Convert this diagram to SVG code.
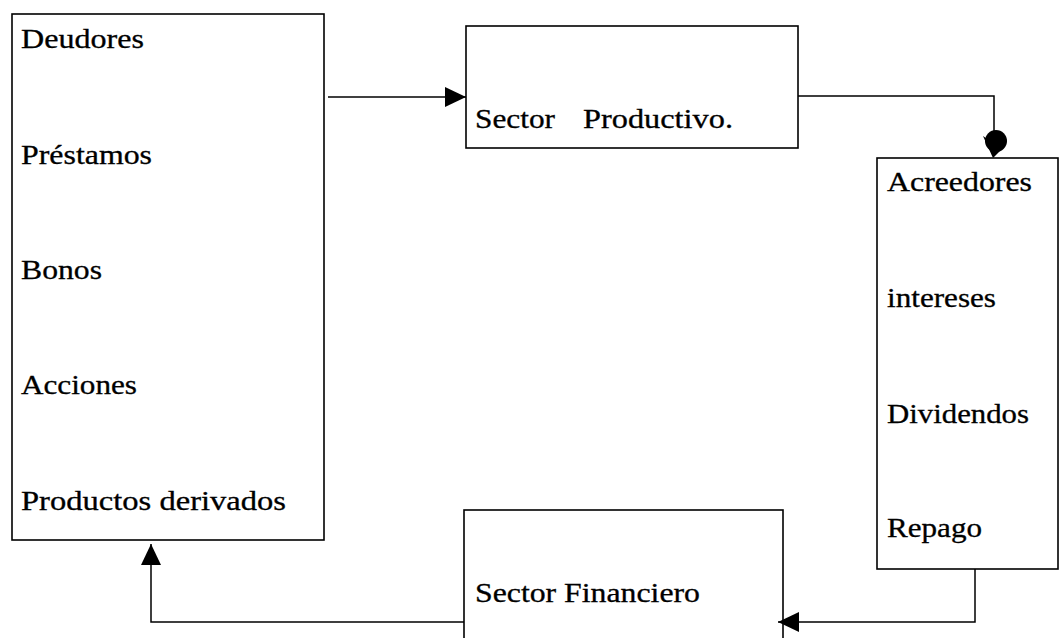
<svg xmlns="http://www.w3.org/2000/svg" width="1061" height="638" viewBox="0 0 1061 638">
<style>
.box{fill:#fff;stroke:#000;stroke-width:1.6}
.ln{fill:none;stroke:#000;stroke-width:1.5}
text{font-family:"Liberation Serif","Times New Roman",serif;font-size:26.5px;fill:#000;stroke:#000;stroke-width:0.3}
</style>
<defs>
<marker id="ah" markerUnits="userSpaceOnUse" markerWidth="22" markerHeight="22" viewBox="0 0 22 22" refX="21" refY="11" orient="auto">
<path d="M0,1 L21,11 L0,21 Z" fill="#000"/>
</marker>
</defs>
<rect width="1061" height="638" fill="#fff"/>
<g id="deudores">
<rect class="box" x="12" y="14" width="312" height="526"/>
<text x="21" y="48" textLength="123" lengthAdjust="spacingAndGlyphs">Deudores</text>
<text x="21" y="164" textLength="131" lengthAdjust="spacingAndGlyphs">Préstamos</text>
<text x="21" y="279" textLength="81" lengthAdjust="spacingAndGlyphs">Bonos</text>
<text x="21" y="394" textLength="116" lengthAdjust="spacingAndGlyphs">Acciones</text>
<text x="21" y="510" textLength="265" lengthAdjust="spacingAndGlyphs">Productos derivados</text>
</g>
<g id="sector-productivo">
<rect class="box" x="466" y="26" width="332" height="122"/>
<text y="128"><tspan x="475" textLength="80" lengthAdjust="spacingAndGlyphs">Sector</tspan><tspan x="583" textLength="150" lengthAdjust="spacingAndGlyphs">Productivo.</tspan></text>
</g>
<g id="acreedores">
<rect class="box" x="877" y="158" width="181" height="411"/>
<text x="887" y="191" textLength="145" lengthAdjust="spacingAndGlyphs">Acreedores</text>
<text x="887" y="307" textLength="109" lengthAdjust="spacingAndGlyphs">intereses</text>
<text x="887" y="423" textLength="142" lengthAdjust="spacingAndGlyphs">Dividendos</text>
<text x="887" y="537" textLength="95" lengthAdjust="spacingAndGlyphs">Repago</text>
</g>
<g id="sector-financiero">
<rect class="box" x="464" y="510" width="319" height="140"/>
<text x="475" y="602" textLength="225" lengthAdjust="spacingAndGlyphs">Sector Financiero</text>
</g>
<g id="connectors">
<path class="ln" d="M328,97 H466" marker-end="url(#ah)"/>
<path class="ln" d="M798,96 H994 V132"/>
<circle cx="996" cy="141" r="11" fill="#000"/>
<polygon points="983,136 1002,149 993,158" fill="#000"/>
<path class="ln" d="M975,569 V622 H778" marker-end="url(#ah)"/>
<path class="ln" d="M464,622 H151 V544" marker-end="url(#ah)"/>
</g>
</svg>
